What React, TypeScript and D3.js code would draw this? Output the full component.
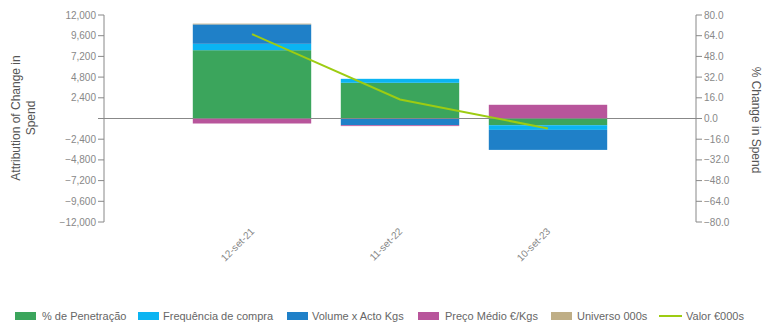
import React from "react";
import * as d3 from "d3";

const categories = ["12-set-21", "11-set-22", "10-set-23"];
const seriesNames = ["% de Penetração", "Frequência de compra", "Volume x Acto Kgs", "Preço Médio €/Kgs", "Universo 000s"];
const penetracao = [7920, 4140, -780];
const frequencia = [740, 460, -540];
const volume = [2250, -780, -2320];
const preco = [-580, -100, 1590];
const universo = [90, 0, 0];
const valorPct = [65.2, 14.7, -7.7];
const leftTicks = [12000, 9600, 7200, 4800, 2400, 0, -2400, -4800, -7200, -9600, -12000];
const rightTicks = [80, 64, 48, 32, 16, 0, -16, -32, -48, -64, -80];
const colors = ["#3ba55c", "#0bb4f2", "#1f80c8", "#b8559b", "#bfae86"];
const lineColor = "#9dcc12";

export default function App() {
  const W = 772, H = 330;
  const left = 104, right = 696, top = 15, bottom = 222;
  const x = d3.scaleBand<string>().domain(categories).range([left, right]).paddingInner(0.2).paddingOuter(0.6);
  const y = d3.scaleLinear().domain([-12000, 12000]).range([bottom, top]);
  const y2 = d3.scaleLinear().domain([-80, 80]).range([bottom, top]);
  const rows = categories.map((c, i) => ({
    cat: c,
    s0: penetracao[i], s1: frequencia[i], s2: volume[i], s3: preco[i], s4: universo[i],
  }));
  const keys = ["s0", "s1", "s2", "s3", "s4"];
  const stacked = d3.stack<any>().keys(keys).offset(d3.stackOffsetDiverging)(rows);
  const line = d3.line<number>().x((_, i) => (x(categories[i]) as number) + x.bandwidth() / 2).y(v => y2(v));
  const fmtL = d3.format(",");
  const fmtR = d3.format(".1f");
  const font = "Arial, 'Liberation Sans', sans-serif";

  const legendItems = [
    { x: 15, tx: 42 },
    { x: 138, tx: 163 },
    { x: 287, tx: 312 },
    { x: 418, tx: 445 },
    { x: 551, tx: 577 },
  ];

  return (
    <svg width={W} height={H} style={{ position: "absolute", left: 0, top: 0, fontFamily: font }}>
      {stacked.map((layer, li) => (
        <g key={li} fill={colors[li]}>
          {layer.map((d, i) => {
            const y0 = y(d[0]), y1 = y(d[1]);
            return (
              <rect key={i} x={x(categories[i])} width={x.bandwidth()} y={Math.min(y0, y1)} height={Math.abs(y1 - y0)} />
            );
          })}
        </g>
      ))}
      <line x1={left} x2={right} y1={y(0)} y2={y(0)} stroke="#888" strokeWidth={1} />
      {/* left axis */}
      <line x1={left} x2={left} y1={top} y2={bottom} stroke="#888" />
      {leftTicks.map(t => (
        <g key={t} transform={`translate(0,${y(t)})`}>
          <line x1={left - 6} x2={left} stroke="#888" />
          {t !== 0 && (
            <text x={left - 8} dy="0.35em" textAnchor="end" fontSize={10} fill="#888">{fmtL(t)}</text>
          )}
        </g>
      ))}
      {/* right axis */}
      <line x1={right} x2={right} y1={top} y2={bottom} stroke="#888" />
      {rightTicks.map(t => (
        <g key={t} transform={`translate(0,${y2(t)})`}>
          <line x1={right} x2={right + 6} stroke="#888" />
          <text x={right + 8} dy="0.35em" textAnchor="start" fontSize={10} fill="#888">{fmtR(t)}</text>
        </g>
      ))}
      {/* x labels */}
      {categories.map(c => (
        <text key={c} transform={`translate(${(x(c) as number) + x.bandwidth() / 2 + 3},${bottom + 10}) rotate(-45)`} textAnchor="end" fontSize={10} fill="#888">{c}</text>
      ))}
      {/* line */}
      <path d={line(valorPct) as string} fill="none" stroke={lineColor} strokeWidth={2} />
      {/* axis titles */}
      <text transform={`translate(20,118) rotate(-90)`} textAnchor="middle" fontSize={12} fill="#555">
        <tspan x={0} dy={0}>Attribution of Change in</tspan>
        <tspan x={0} dy={15}>Spend</tspan>
      </text>
      <text transform={`translate(752,120) rotate(90)`} textAnchor="middle" fontSize={12} fill="#555">% Change in Spend</text>
      {/* legend */}
      {legendItems.map((it, i) => (
        <g key={i}>
          <rect x={it.x} y={312} width={21} height={8} fill={colors[i]} />
          <text x={it.tx} y={320} fontSize={11} fill="#666">{seriesNames[i]}</text>
        </g>
      ))}
      <line x1={659} x2={682} y1={316} y2={316} stroke={lineColor} strokeWidth={2} />
      <text x={686} y={320} fontSize={11} fill="#666">Valor €000s</text>
    </svg>
  );
}
